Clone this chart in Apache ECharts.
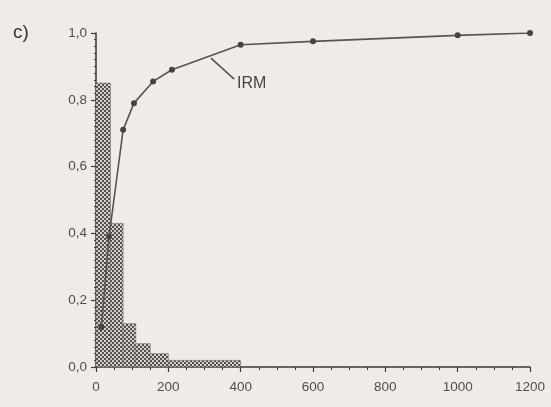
<!DOCTYPE html>
<html>
<head>
<meta charset="utf-8">
<script src="https://cdn.jsdelivr.net/npm/echarts@6/dist/echarts.min.js"></script>
<style>
  html, body { margin: 0; padding: 0; background: #f1ebe7; }
  #main { width: 551px; height: 407px; }
</style>
</head>
<body>
<div id="main"></div>
<script>
// c) IRM 累积曲线 + 分布直方图
var xTicks = [0, 200, 400, 600, 800, 1000, 1200];
var yTicks = [0, 0.2, 0.4, 0.6, 0.8, 1.0];

// histogram bins (start, end, height)
var binStart = [0, 40, 75, 110, 150, 200];
var binEnd = [40, 75, 110, 150, 200, 400];
var binHeight = [0.85, 0.43, 0.13, 0.07, 0.04, 0.02];

// IRM curve
var irmX = [15, 36, 75, 105, 158, 210, 400, 600, 1000, 1200];
var irmY = [0.12, 0.39, 0.71, 0.79, 0.855, 0.89, 0.965, 0.975, 0.993, 1.0];

// leader line + label anchor
var leaderFrom = [318, 0.925];
var leaderTo = [382, 0.862];
var labelAt = [390, 0.85];

var ink = '#3a3a3a';
var textCol = '#4f4f4f';

// crosshatch pattern
var pat = document.createElement('canvas');
pat.width = 4; pat.height = 4;
var pc = pat.getContext('2d');
pc.fillStyle = '#55514f';
pc.fillRect(0, 0, 4, 4);
pc.fillStyle = '#e8e1dd';
pc.beginPath(); pc.arc(1, 1, 1.05, 0, Math.PI * 2); pc.fill();
pc.beginPath(); pc.arc(3, 3, 1.05, 0, Math.PI * 2); pc.fill();

var histData = binStart.map(function(s, i) { return [s, binEnd[i], binHeight[i]]; });
var irmData = irmX.map(function(x, i) { return [x, irmY[i]]; });

var chart = echarts.init(document.getElementById('main'));
chart.setOption({
  backgroundColor: '#f1ebe7',
  animation: false,
  grid: { left: 96, right: 21, top: 33, bottom: 40 },
  title: {
    text: 'c)', left: 8, top: 18,
    textStyle: { fontFamily: 'Liberation Sans', fontSize: 19, fontWeight: 'normal', color: '#333' }
  },
  xAxis: {
    type: 'value', min: xTicks[0], max: xTicks[xTicks.length - 1], interval: 200,
    axisLine: { show: true, onZero: false, lineStyle: { color: ink, width: 1.5 } },
    axisTick: { show: true, inside: false, length: 5, lineStyle: { color: ink, width: 1.2 } },
    minorTick: { show: true, splitNumber: 4, length: 3, lineStyle: { color: ink } },
    splitLine: { show: false },
    axisLabel: {
      color: textCol, fontFamily: 'Liberation Sans', fontSize: 13.5, margin: 13,
      formatter: function(v) { return String(v); }
    }
  },
  yAxis: {
    type: 'value', min: yTicks[0], max: yTicks[yTicks.length - 1], interval: 0.2,
    axisLine: { show: true, onZero: false, lineStyle: { color: ink, width: 1.5 } },
    axisTick: { show: true, inside: false, length: 5, lineStyle: { color: ink, width: 1.2 } },
    minorTick: { show: true, splitNumber: 10, length: 2, lineStyle: { color: ink } },
    splitLine: { show: false },
    axisLabel: {
      color: textCol, fontFamily: 'Liberation Sans', fontSize: 13.5, margin: 9,
      formatter: function(v) { return v.toFixed(1).replace('.', ','); }
    }
  },
  series: [
    {
      type: 'custom',
      z: 1,
      data: histData,
      encode: { x: [0, 1], y: 2 },
      renderItem: function(params, api) {
        var p0 = api.coord([api.value(0), api.value(2)]);
        var p1 = api.coord([api.value(1), 0]);
        return {
          type: 'rect',
          shape: { x: p0[0], y: p0[1], width: p1[0] - p0[0], height: p1[1] - p0[1] },
          style: { fill: { image: pat, repeat: 'repeat' }, stroke: '#666', lineWidth: 0.5 }
        };
      }
    },
    {
      type: 'line',
      z: 3,
      data: irmData,
      symbol: 'circle',
      symbolSize: 6,
      showSymbol: true,
      lineStyle: { color: '#555', width: 1.6 },
      itemStyle: { color: '#444' },
      markLine: {
        silent: true,
        symbol: ['none', 'none'],
        lineStyle: { color: '#555', width: 1.6, type: 'solid' },
        label: { show: false },
        data: [[{ coord: leaderFrom }, { coord: leaderTo }]]
      },
      markPoint: {
        silent: true,
        symbol: 'circle',
        symbolSize: 0,
        label: {
          show: true, position: 'right', distance: 0, formatter: 'IRM',
          color: '#444', fontFamily: 'Liberation Sans', fontSize: 16
        },
        data: [{ coord: labelAt }]
      }
    }
  ]
});
</script>
</body>
</html>
